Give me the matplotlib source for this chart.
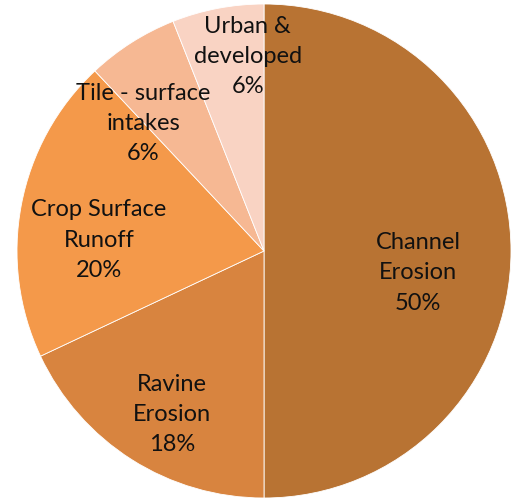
import numpy as np
import matplotlib
matplotlib.use("Agg")
import matplotlib.pyplot as plt

categories = ["Channel\nErosion", "Ravine\nErosion", "Crop Surface\nRunoff",
              "Tile - surface\nintakes", "Urban &\ndeveloped"]
values = [50, 18, 20, 6, 6]
colors = ["#B87333", "#D8843F", "#F4994A", "#F6B893", "#F9D3C3"]

# label placement (fraction of radius, angle offset in degrees)
label_r = [0.63, 0.76, 0.67, 0.71, 0.79]
label_dang = [-8, 3, 7, 11, -6]

fig = plt.figure(figsize=(5.16, 5.0), dpi=100)
R = 247
cx, cy = 264, 500 - 251
ax = fig.add_axes([(cx - R) / 516, (cy - R) / 500, 2 * R / 516, 2 * R / 500])
wedges, _ = ax.pie(values, colors=colors, startangle=90, counterclock=False,
                   radius=1.0, wedgeprops=dict(edgecolor="white", linewidth=0.6))
ax.set_xlim(-1, 1)
ax.set_ylim(-1, 1)
ax.axis("off")

for w, cat, v, r, da in zip(wedges, categories, values, label_r, label_dang):
    ang = np.deg2rad((w.theta1 + w.theta2) / 2 + da)
    ax.text(r * np.cos(ang), r * np.sin(ang), f"{cat}\n{v}%",
            ha="center", va="center", fontsize=17, family="Lato",
            linespacing=1.55, color="#111111")

fig.savefig("out.png", dpi=100)
